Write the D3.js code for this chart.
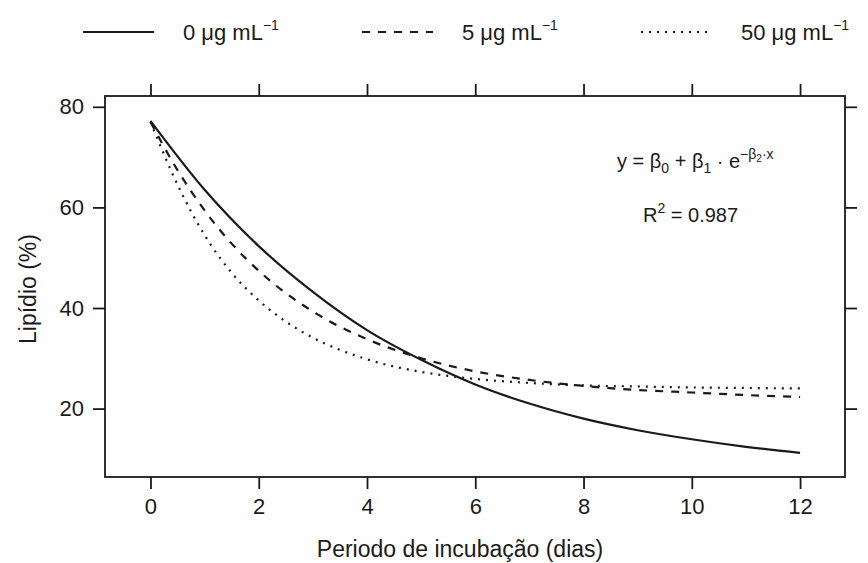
<!DOCTYPE html>
<html>
<head>
<meta charset="utf-8">
<script src="https://cdn.jsdelivr.net/npm/d3@7"></script>
<style>
  body { margin: 0; background: #fff; }
  svg { display: block; font-family: "Liberation Sans", Arial, Helvetica, sans-serif; }
</style>
</head>
<body>
<svg id="chart" width="868" height="563"></svg>
<script>
// ---- data ----
const days = [0, 1, 2, 3, 4, 5, 6, 7, 8, 9, 10, 11, 12];
const lipid0 = [77.2, 63.5, 52.3, 43.2, 35.6, 29.7, 24.8, 21.0, 18.0, 15.7, 13.9, 12.4, 11.2];
const days5 = [0, 0.5, 1, 1.5, 2, 3, 4, 5, 6, 7, 8, 9, 10, 11, 12];
const lipid5 = [77.0, 67.4, 59.4, 52.8, 47.4, 39.3, 33.8, 30.0, 27.4, 25.7, 24.5, 23.7, 23.2, 22.7, 22.3];
const days50 = [0, 0.5, 1, 1.5, 2, 2.5, 3, 4, 5, 6, 7, 8, 9, 10, 11, 12];
const lipid50 = [77.0, 64.5, 54.5, 47.0, 41.5, 37.3, 34.1, 29.8, 27.3, 25.9, 25.1, 24.6, 24.4, 24.2, 24.1, 24.0];
const seriesNames = ["0 μg mL", "5 μg mL", "50 μg mL"];
const xTicks = [0, 2, 4, 6, 8, 10, 12];
const yTicks = [20, 40, 60, 80];
const xTitle = "Periodo de incubação (dias)";
const yTitle = "Lipídio (%)";
const r2Text = "0.987";

// ---- layout ----
const svg = d3.select("#chart");
const L = 105, R = 845, T = 96, B = 477;
const x = d3.scaleLinear().domain([-0.84, 12.83]).range([L, R]);
const y = d3.scaleLinear().domain([6.4, 82.15]).range([B, T]);
const ink = "#1a1a1a";

const series = [
  { name: seriesNames[0], xs: days, ys: lipid0, dash: null },
  { name: seriesNames[1], xs: days5, ys: lipid5, dash: "8,8" },
  { name: seriesNames[2], xs: days50, ys: lipid50, dash: "2,6" }
];

// axes (ticks on all four sides, outward)
const tickLen = 12;
function styleAxis(g) {
  g.select(".domain").remove();
  g.selectAll(".tick line").attr("stroke", ink).attr("stroke-width", 1.8);
  g.selectAll(".tick text").attr("fill", ink).style("font-size", "22px")
    .style("font-family", "'Liberation Sans', Arial, Helvetica, sans-serif");
}
svg.append("g").attr("transform", `translate(0,${B})`)
  .call(d3.axisBottom(x).tickValues(xTicks).tickSize(tickLen).tickPadding(9).tickFormat(d3.format("d")))
  .call(styleAxis);
svg.append("g").attr("transform", `translate(0,${T})`)
  .call(d3.axisTop(x).tickValues(xTicks).tickSize(tickLen).tickFormat(""))
  .call(styleAxis);
svg.append("g").attr("transform", `translate(${L},0)`)
  .call(d3.axisLeft(y).tickValues(yTicks).tickSize(tickLen).tickPadding(9).tickFormat(d3.format("d")))
  .call(styleAxis);
svg.append("g").attr("transform", `translate(${R},0)`)
  .call(d3.axisRight(y).tickValues(yTicks).tickSize(tickLen).tickFormat(""))
  .call(styleAxis);

// frame
svg.append("rect").attr("x", L).attr("y", T).attr("width", R - L).attr("height", B - T)
  .attr("fill", "none").attr("stroke", ink).attr("stroke-width", 1.8);

// curves
const line = d3.line().x(d => x(d[0])).y(d => y(d[1])).curve(d3.curveMonotoneX);
series.forEach(s => {
  const pts = s.xs.map((v, i) => [v, s.ys[i]]);
  svg.append("path").datum(pts).attr("d", line)
    .attr("fill", "none").attr("stroke", ink).attr("stroke-width", 2.2)
    .attr("stroke-dasharray", s.dash);
});

// axis titles
svg.append("text").attr("x", 460).attr("y", 557).attr("text-anchor", "middle")
  .attr("fill", ink).style("font-size", "23px").text(xTitle);
svg.append("text").attr("transform", "translate(36,289) rotate(-90)").attr("text-anchor", "middle")
  .attr("fill", ink).style("font-size", "23px").text(yTitle);

// legend
const legendX = [83, 362, 641];
const legendY = 32;
series.forEach((s, i) => {
  svg.append("line").attr("x1", legendX[i]).attr("x2", legendX[i] + 71)
    .attr("y1", legendY).attr("y2", legendY)
    .attr("stroke", ink).attr("stroke-width", 2.2).attr("stroke-dasharray", s.dash);
  const t = svg.append("text").attr("x", legendX[i] + 100).attr("y", legendY + 8)
    .attr("fill", ink).style("font-size", "22px");
  t.append("tspan").text(s.name);
  t.append("tspan").attr("dy", -10).style("font-size", "14px").text("−1");
});

// equation
const eq = svg.append("text").attr("x", 617).attr("y", 168).attr("fill", ink).style("font-size", "20px");
eq.append("tspan").text("y = β");
eq.append("tspan").attr("dy", 5).style("font-size", "14px").text("0");
eq.append("tspan").attr("dy", -5).text(" + β");
eq.append("tspan").attr("dy", 5).style("font-size", "14px").text("1");
eq.append("tspan").attr("dy", -5).text(" · e");
eq.append("tspan").attr("dy", -9).style("font-size", "14px").text("−β");
eq.append("tspan").attr("dy", 3).style("font-size", "10px").text("2");
eq.append("tspan").attr("dy", -3).style("font-size", "14px").text("·x");

const r2 = svg.append("text").attr("x", 643).attr("y", 222).attr("fill", ink).style("font-size", "20px");
r2.append("tspan").text("R");
r2.append("tspan").attr("dy", -9).style("font-size", "14px").text("2");
r2.append("tspan").attr("dy", 9).text(" = " + r2Text);
</script>
</body>
</html>
